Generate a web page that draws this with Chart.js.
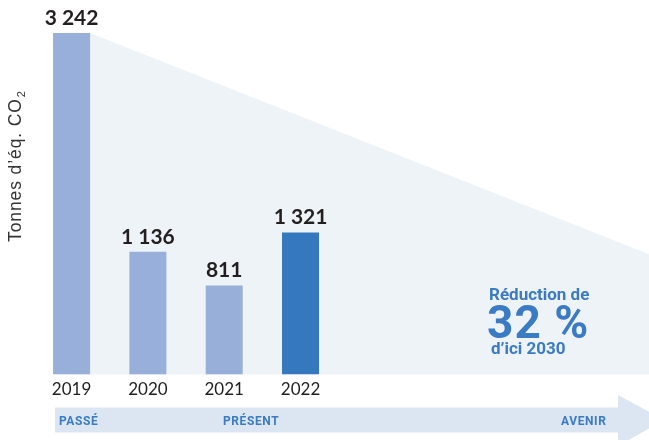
<!DOCTYPE html>
<html>
<head>
<meta charset="utf-8">
<script src="https://cdn.jsdelivr.net/npm/chart.js@4.4.1/dist/chart.umd.min.js"></script>
<style>
  html, body { margin: 0; padding: 0; background: #ffffff; }
  #wrap { width: 649px; height: 440px; position: relative; }
</style>
</head>
<body>
<div id="wrap"><canvas id="c" width="649" height="440"></canvas></div>
<script>
// ---- data ----
const categories = ['2019', '2020', '2021', '2022'];
const emissions = [3242, 1136, 811, 1321];
const valueLabels = ['3 242', '1 136', '811', '1 321'];
const barColors = ['#97afd9', '#97afd9', '#97afd9', '#3578be'];
const yTitle = 'Tonnes d\u2019éq. CO';
const yTitleSub = '2';
const reductionTexts = ['Réduction de', '32 %', 'd\u2019ici 2030'];
const timelineLabels = ['PASSÉ', 'PRÉSENT', 'AVENIR'];

const decorPlugin = {
  id: 'decor',
  beforeDatasetsDraw(chart) {
    const ctx = chart.ctx;
    const meta = chart.getDatasetMeta(0);
    const b0 = meta.data[0];
    const area = chart.chartArea;
    const W = chart.width;
    const x0 = b0.x + b0.width / 2;
    const y0 = b0.y;
    const rightY = y0 + (W - x0) * 0.396;
    ctx.save();
    ctx.fillStyle = '#eef3f8';
    ctx.beginPath();
    ctx.moveTo(b0.x, y0);
    ctx.lineTo(x0, y0);
    ctx.lineTo(W, rightY);
    ctx.lineTo(W, area.bottom);
    ctx.lineTo(b0.x, area.bottom);
    ctx.closePath();
    ctx.fill();
    ctx.restore();
  },
  afterDatasetsDraw(chart) {
    const ctx = chart.ctx;
    const meta = chart.getDatasetMeta(0);
    ctx.save();
    ctx.fillStyle = '#231f20';
    ctx.font = 'bold 21px Lato';
    ctx.textAlign = 'center';
    ctx.textBaseline = 'alphabetic';
    meta.data.forEach((bar, i) => {
      ctx.fillText(valueLabels[i], bar.x, bar.y - 8);
    });
    ctx.restore();
  },
  afterDraw(chart) {
    const ctx = chart.ctx;
    const meta = chart.getDatasetMeta(0);
    const b0 = meta.data[0];
    ctx.save();
    // y title
    ctx.translate(21, 242);
    ctx.rotate(-Math.PI / 2);
    ctx.fillStyle = '#333333';
    ctx.letterSpacing = '0.9px';
    ctx.font = '17.5px "Liberation Sans"';
    ctx.textAlign = 'left';
    ctx.textBaseline = 'alphabetic';
    ctx.fillText(yTitle, 0, 0);
    const tw = ctx.measureText(yTitle).width;
    ctx.font = '11px "Liberation Sans"';
    ctx.fillText(yTitleSub, tw + 1, 4);
    ctx.restore();

    // reduction annotation
    ctx.save();
    ctx.fillStyle = '#3a7bc4';
    ctx.textAlign = 'left';
    ctx.textBaseline = 'alphabetic';
    ctx.font = 'bold 17px Roboto';
    ctx.fillText(reductionTexts[0], 489, 299.5);
    ctx.letterSpacing = '1px';
    ctx.font = 'bold 46px Roboto';
    ctx.fillText(reductionTexts[1], 487, 338);
    ctx.letterSpacing = '0px';
    ctx.font = 'bold 17px Roboto';
    ctx.fillText(reductionTexts[2], 491, 354);
    ctx.restore();

    // timeline arrow
    ctx.save();
    ctx.fillStyle = '#dbe6f2';
    const left = b0.x - b0.width / 2 + 2;
    ctx.beginPath();
    ctx.moveTo(left, 407.5);
    ctx.lineTo(618, 407.5);
    ctx.lineTo(618, 395);
    ctx.lineTo(664, 420);
    ctx.lineTo(618, 446);
    ctx.lineTo(618, 432.5);
    ctx.lineTo(left, 432.5);
    ctx.closePath();
    ctx.fill();
    ctx.fillStyle = '#3a7bc4';
    ctx.letterSpacing = '0.6px';
    ctx.font = 'bold 12px Roboto';
    ctx.textBaseline = 'alphabetic';
    ctx.textAlign = 'left';
    ctx.fillText(timelineLabels[0], 59, 424.5);
    ctx.fillText(timelineLabels[1], 223, 424.5);
    ctx.fillText(timelineLabels[2], 561, 424.5);
    ctx.restore();
  }
};

new Chart(document.getElementById('c'), {
  type: 'bar',
  data: {
    labels: categories,
    datasets: [{
      data: emissions,
      backgroundColor: barColors,
      borderWidth: 0,
      base: -48,
      categoryPercentage: 1,
      barPercentage: 0.485
    }]
  },
  options: {
    responsive: false,
    animation: false,
    devicePixelRatio: 1,
    layout: { padding: { left: 33.4, right: 310.3, top: 33, bottom: 35 } },
    plugins: { legend: { display: false }, tooltip: { enabled: false } },
    scales: {
      x: {
        grid: { display: false, drawTicks: false },
        border: { display: false },
        ticks: { color: '#1e1e1e', font: { family: 'Lato', size: 17 }, padding: 5 }
      },
      y: {
        display: false,
        min: -48,
        max: 3242
      }
    }
  },
  plugins: [decorPlugin]
});
</script>
</body>
</html>
